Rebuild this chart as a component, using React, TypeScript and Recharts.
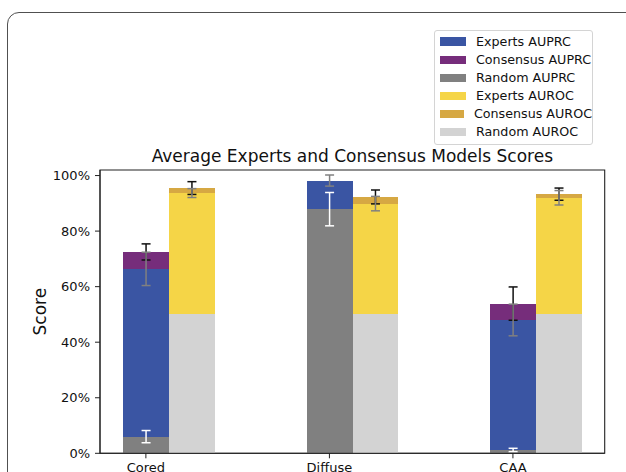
import React from 'react';
import { BarChart, Bar, XAxis, YAxis, ErrorBar, Legend, ReferenceArea, Label } from 'recharts';

const categories = ['Cored', 'Diffuse', 'CAA'];

// AUPRC (percent) and one-sided error sizes
const expertsAuprc = [66.4, 98.2, 48.0];
const expertsAuprcErr = [6.0, 2.0, 5.7];
const consensusAuprc = [72.5, null, 53.9];
const consensusAuprcErr = [2.9, null, 6.0];
const randomAuprc = [6.0, 87.9, 1.2];
const randomAuprcErr = [2.2, 6.0, 0.6];

// AUROC (percent)
const expertsAuroc = [93.7, 89.9, 92.0];
const expertsAurocErr = [1.6, 2.6, 2.6];
const consensusAuroc = [95.5, 92.3, 93.3];
const consensusAurocErr = [2.3, 2.5, 2.2];
const randomAuroc = [50, 50, 50];

const yTicks = [0, 20, 40, 60, 80, 100];
const xTicks = categories.map((_, i) => i);

const legendOrder = [
  'Experts AUPRC',
  'Consensus AUPRC',
  'Random AUPRC',
  'Experts AUROC',
  'Consensus AUROC',
  'Random AUROC',
];

// layout
const W = 626;
const H = 484;
const MARGIN = { top: 170, right: 21.3, bottom: 0.7, left: 40 };
const Y_AXIS_W = 60;
const X_DOMAIN: [number, number] = [-0.25, 2.5];
const BAR_WIDTH = 0.25; // in category units, AUROC bar sits right of AUPRC
const PLOT_W = W - MARGIN.left - Y_AXIS_W - MARGIN.right;
const BAR_PX = (PLOT_W * BAR_WIDTH) / (X_DOMAIN[1] - X_DOMAIN[0]);
const FONT = '"DejaVu Sans", Verdana, sans-serif';

const rows = categories.map((name, i) => ({
  name,
  prcPos: i,
  rocPos: i + BAR_WIDTH,
  expertsPrc: expertsAuprc[i],
  expertsPrcErr: expertsAuprcErr[i],
  consensusPrc: consensusAuprc[i],
  consensusPrcErr: consensusAuprcErr[i],
  randomPrc: randomAuprc[i],
  randomPrcErr: randomAuprcErr[i],
  expertsRoc: expertsAuroc[i],
  expertsRocErr: expertsAurocErr[i],
  consensusRoc: consensusAuroc[i],
  consensusRocErr: consensusAurocErr[i],
  randomRoc: randomAuroc[i],
}));

// drawn back to front: consensus, experts, random overlap at the same spot
const prcSeries = [
  { key: 'consensusPrc', err: 'consensusPrcErr', name: 'Consensus AUPRC', fill: '#762d7b', errColor: '#111' },
  { key: 'expertsPrc', err: 'expertsPrcErr', name: 'Experts AUPRC', fill: '#3a55a3', errColor: '#808080' },
  { key: 'randomPrc', err: 'randomPrcErr', name: 'Random AUPRC', fill: '#808080', errColor: '#ffffff' },
];
const rocSeries = [
  { key: 'consensusRoc', err: 'consensusRocErr', name: 'Consensus AUROC', fill: '#d6a843', errColor: '#111' },
  { key: 'expertsRoc', err: 'expertsRocErr', name: 'Experts AUROC', fill: '#f5d547', errColor: '#808080' },
  { key: 'randomRoc', err: null, name: 'Random AUROC', fill: '#d3d3d3', errColor: '#ffffff' },
];

function LegendBox({ payload }: any) {
  const items = [...(payload ?? [])].sort(
    (a: any, b: any) => legendOrder.indexOf(a.value) - legendOrder.indexOf(b.value)
  );
  return (
    <div
      style={{
        boxSizing: 'border-box',
        width: 159,
        height: 115,
        border: '1px solid #d4d4d4',
        borderRadius: 3,
        background: '#fff',
        padding: '1.7px 0 0 5px',
        fontFamily: FONT,
      }}
    >
      {items.map((it: any) => (
        <div key={it.value} style={{ display: 'flex', alignItems: 'center', height: 18.06 }}>
          <span style={{ display: 'inline-block', width: 26, height: 8.5, background: it.color, marginRight: 10 }} />
          <span style={{ fontSize: 12.7, color: '#111', whiteSpace: 'nowrap' }}>{it.value}</span>
        </div>
      ))}
    </div>
  );
}

export default function App() {
  return (
    <div
      style={{
        position: 'fixed',
        left: 0,
        top: 0,
        width: 626,
        height: 472,
        overflow: 'hidden',
        background: '#fff',
        fontFamily: FONT,
      }}
    >
      <div
        style={{
          position: 'absolute',
          left: 7,
          top: 12,
          width: 700,
          height: 700,
          border: '1.5px solid #505050',
          borderRadius: 12,
        }}
      />
      <div style={{ position: 'absolute', left: 0, top: 0 }}>
        <BarChart width={W} height={H} data={rows} margin={MARGIN} barSize={BAR_PX} barGap={-BAR_PX}>
          <XAxis
            xAxisId="prc"
            type="number"
            dataKey="prcPos"
            domain={X_DOMAIN}
            ticks={xTicks}
            interval={0}
            tickFormatter={(v: number) => categories[v]}
            tickSize={5}
            tickMargin={4}
            height={30}
            stroke="#222"
            tick={{ fontSize: 13, fill: '#111' }}
          />
          <XAxis xAxisId="roc" type="number" dataKey="rocPos" domain={X_DOMAIN} hide />
          <YAxis
            type="number"
            domain={[0, 102]}
            ticks={yTicks}
            interval={0}
            tickFormatter={(v: number) => `${v}%`}
            width={Y_AXIS_W}
            tickSize={5}
            tickMargin={5}
            stroke="#222"
            tick={{ fontSize: 13, fill: '#111' }}
          >
            <Label value="Score" angle={-90} position="center" dx={-30} style={{ fontSize: 17, fill: '#111' }} />
          </YAxis>
          <ReferenceArea
            xAxisId="prc"
            x1={X_DOMAIN[0]}
            x2={X_DOMAIN[1]}
            y1={0}
            y2={102}
            fill="none"
            stroke="#222"
            strokeWidth={1.1}
          />
          {prcSeries.map((s) => (
            <Bar
              key={s.key}
              xAxisId="prc"
              dataKey={s.key}
              name={s.name}
              fill={s.fill}
              shapeRendering="crispEdges"
              isAnimationActive={false}
            >
              <ErrorBar dataKey={s.err} width={4.5} stroke={s.errColor} strokeWidth={1.5} />
            </Bar>
          ))}
          {rocSeries.map((s) => (
            <Bar
              key={s.key}
              xAxisId="roc"
              dataKey={s.key}
              name={s.name}
              fill={s.fill}
              shapeRendering="crispEdges"
              isAnimationActive={false}
            >
              {s.err && <ErrorBar dataKey={s.err} width={4.5} stroke={s.errColor} strokeWidth={1.5} />}
            </Bar>
          ))}
          <Legend
            layout="vertical"
            align="center"
            verticalAlign="middle"
            content={<LegendBox />}
            wrapperStyle={{ top: 30, left: 434, width: 159, height: 115 }}
          />
        </BarChart>
      </div>
      <svg width={626} height={472} style={{ position: 'absolute', left: 0, top: 0, pointerEvents: 'none' }}>
        <text x={352.35} y={162.3} textAnchor="middle" fontSize={17} fill="#111" fontFamily={FONT}>
          Average Experts and Consensus Models Scores
        </text>
      </svg>
    </div>
  );
}
